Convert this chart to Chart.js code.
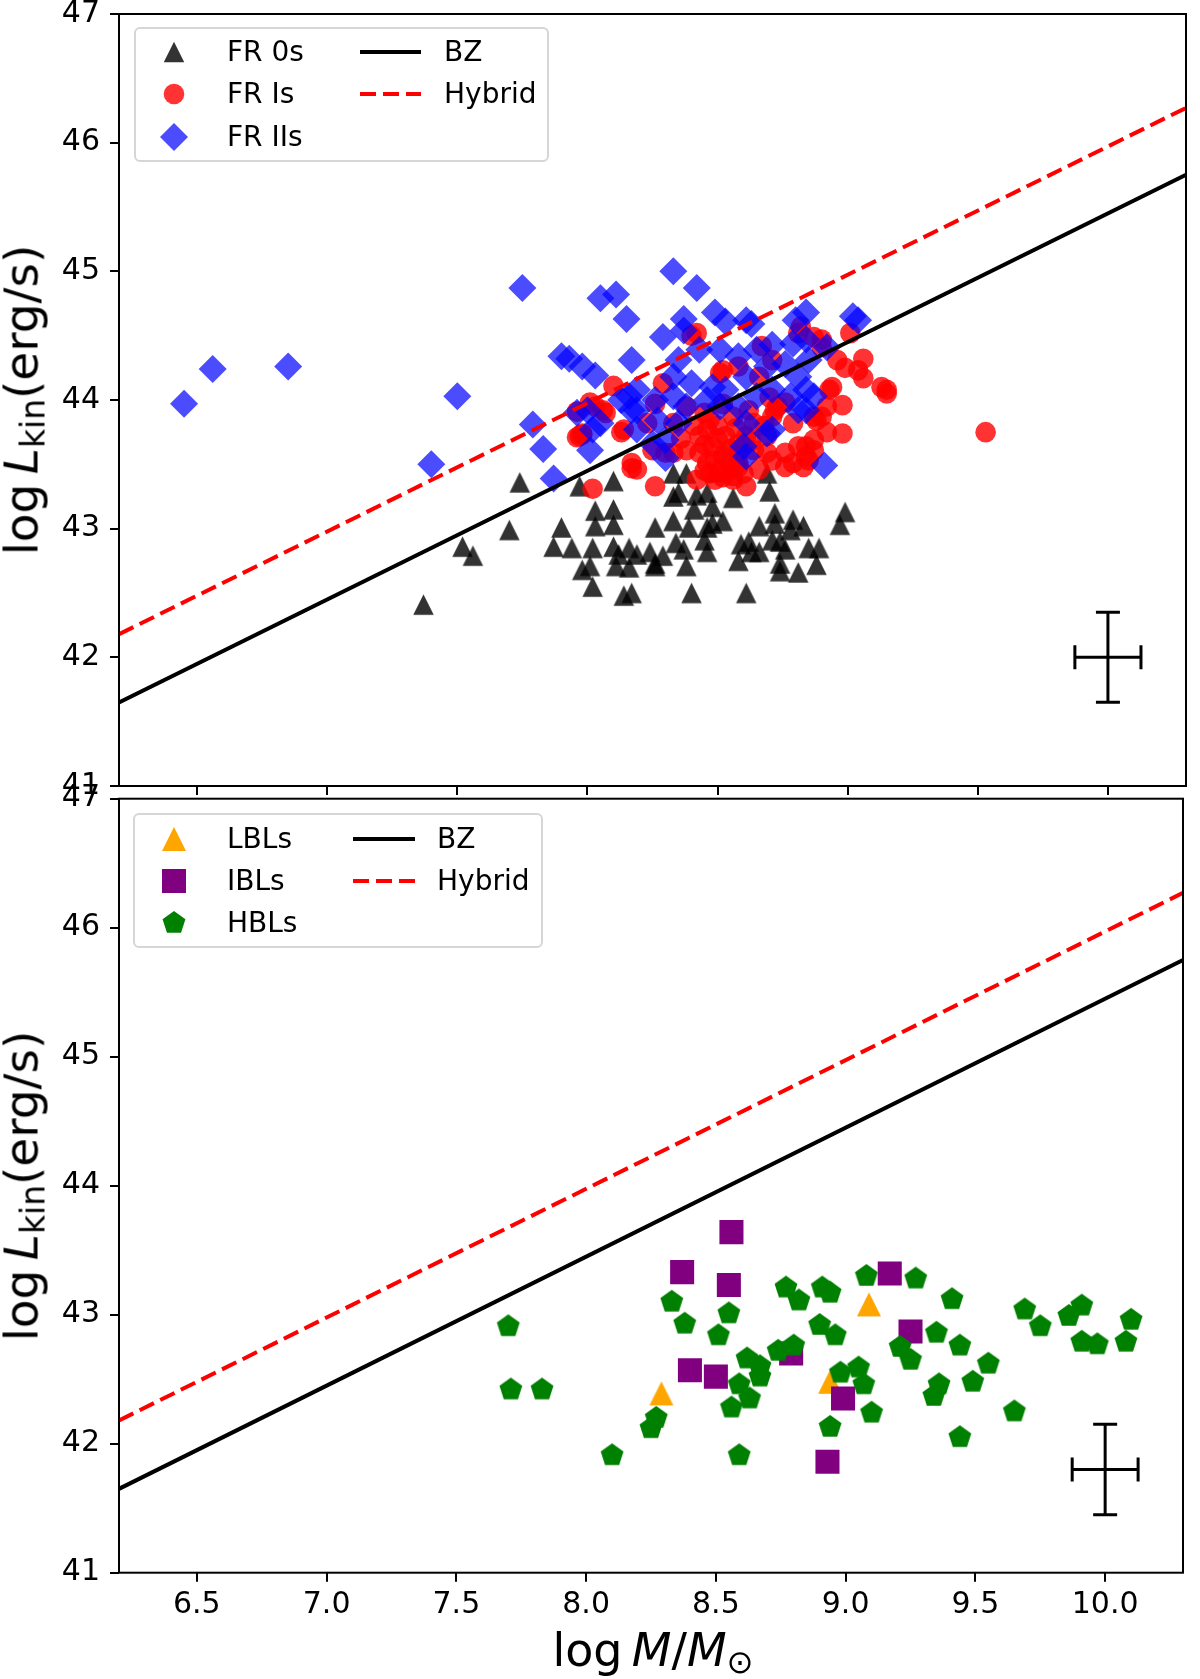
<!DOCTYPE html>
<html>
<head>
<meta charset="utf-8">
<script src="https://cdn.jsdelivr.net/npm/chart.js@4.4.1/dist/chart.umd.min.js"></script>
<style>
html,body{margin:0;padding:0;background:#fff;}
#wrap{position:relative;width:1200px;height:1679px;overflow:hidden;font-family:"DejaVu Sans",sans-serif;color:#000;background:#fff;}
#wrap canvas{position:absolute;left:0;}
#c1{top:0;}
#c2{top:780px;}
.legend{position:absolute;border:2px solid #d6d6d6;border-radius:6px;background:rgba(255,255,255,0.8);box-sizing:border-box;}
.lab{position:absolute;font-size:28px;line-height:28px;white-space:nowrap;}
.mk{position:absolute;overflow:visible;}
.ytitle{position:absolute;font-size:47px;line-height:47px;white-space:nowrap;transform:translate(-50%,-50%) rotate(-90deg);}
.xtitle{position:absolute;font-size:46px;line-height:46px;white-space:nowrap;transform:translateX(-50%);}
sub{font-size:70%;vertical-align:-0.22em;line-height:0;}
i{font-style:italic;}
</style>
</head>
<body>
<div id="wrap">
  <canvas id="c1" width="1200" height="800"></canvas>
  <canvas id="c2" width="1200" height="899"></canvas>
  <div class="ytitle" style="left:21px;top:400px">log&#8201;<i>L</i><sub>kin</sub>(erg/s)</div>
  <div class="ytitle" style="left:21px;top:1186px">log&#8201;<i>L</i><sub>kin</sub>(erg/s)</div>
  <div class="xtitle" style="left:653px;top:1627px">log&#8201;<i>M</i>/<i>M</i><sub>&#8857;</sub></div>
  <div id="legends"></div>
</div>
<script>
// ---------------- data ----------------
const xMin = 6.2, xMax = 10.3, yMin = 41, yMax = 47;
const xTicks = [6.5, 7.0, 7.5, 8.0, 8.5, 9.0, 9.5, 10.0];
const yTicks = [41, 42, 43, 44, 45, 46, 47];

// model lines (end points)
const lineX = [6.2, 10.3];
const bzY = [41.65, 45.75];
const hybridY = [42.18, 46.27];

// typical error bars: centre (x, y) and half sizes (dx, dy)
const errCenterTop = [10.0, 42.0];
const errCenterBottom = [10.0, 41.8];
const errHalf = [0.127, 0.35];

// top panel
const fr0 = [[7.37,42.41],[7.74,43.36],[7.70,42.99],[7.52,42.86],[7.56,42.79],[7.90,43.01],[7.87,42.86],[7.94,42.85],[7.97,43.33],[8.10,43.37],
[8.03,43.14],[8.10,43.15],[8.03,43.02],[8.10,43.03],[8.02,42.85],[7.98,42.68],[8.01,42.71],[8.02,42.55],[8.10,42.86],[8.12,42.80],
[8.11,42.71],[8.16,42.85],[8.16,42.70],[8.14,42.48],[8.17,42.50],[8.19,42.80],[8.26,43.01],[8.24,42.82],[8.26,42.73],[8.26,42.71],
[8.29,42.79],[8.33,43.06],[8.34,42.89],[8.35,43.28],[8.33,43.43],[8.38,43.43],[8.37,42.84],[8.38,42.71],[8.40,42.50],[8.39,43.01],
[8.42,43.26],[8.41,43.15],[8.46,43.28],[8.45,42.91],[8.48,43.17],[8.46,43.01],[8.46,42.82],[8.52,43.06],[8.49,43.44],[8.56,43.24],
[8.59,42.88],[8.58,42.75],[8.62,42.90],[8.61,42.50],[8.63,42.82],[8.66,43.02],[8.66,42.82],[8.69,43.43],[8.70,43.29],[8.72,43.12],
[8.72,43.04],[8.71,42.91],[8.74,42.90],[8.74,42.73],[8.74,42.67],[8.76,42.84],[8.79,43.07],[8.78,42.99],[8.81,42.66],[8.83,43.02],
[8.85,42.85],[8.88,42.72],[8.89,42.85],[8.99,43.13],[8.97,43.03],[8.33,43.25],[8.48,43.04]];

const fr1 = [[8.40,44.50],[8.81,44.52],[8.87,44.49],[9.01,44.52],[8.90,44.41],[8.96,44.31],[9.06,44.32],[9.04,44.23],[8.99,44.25],[9.06,44.17],
[9.13,44.10],[9.15,44.08],[8.94,44.10],[8.98,43.96],[8.92,43.95],[8.90,43.87],[8.98,43.74],[8.92,43.75],[8.87,43.69],[8.84,43.64],
[8.76,43.59],[8.71,43.53],[8.64,43.61],[8.58,43.51],[8.53,43.56],[8.48,43.64],[8.46,43.51],[8.43,43.72],[8.38,43.61],[8.30,43.59],
[8.25,43.61],[8.17,43.51],[8.14,43.77],[8.07,43.90],[7.98,43.74],[7.97,43.72],[8.29,44.13],[8.26,43.97],[8.52,43.97],[8.56,43.87],
[8.64,43.82],[8.61,43.72],[8.53,43.72],[8.46,43.77],[8.69,43.72],[8.71,43.87],[8.79,43.82],[8.87,43.87],[8.66,44.18],[8.71,44.31],
[8.58,44.26],[8.52,44.23],[8.38,43.95],[8.33,43.82],[8.23,43.82],[8.03,43.95],[8.79,43.51],[8.84,43.56],[8.87,43.61],[8.66,43.46],
[8.51,43.46],[8.56,43.41],[8.19,43.46],[8.93,44.08],[7.98,43.73],[8.02,43.31],[8.17,43.47],[8.26,43.33],[8.61,43.33],[8.56,43.38],
[9.15,44.05],[8.90,44.47],[8.85,43.53],[8.81,43.64],[8.88,43.84],[8.42,44.52],[8.51,44.21],[8.58,43.48],[8.69,43.59],[8.76,43.48],
[8.83,43.48],[8.49,43.53],[8.43,43.59],[8.33,43.59],[9.53,43.75],[7.96,43.71],[7.96,43.91],[8.06,43.92],[8.13,43.75],[8.01,43.98],
[8.10,44.11],[8.67,44.42],[8.82,44.57],[8.47,43.85],[8.50,43.70],[8.55,43.62],[8.47,43.43],[8.52,43.57],[8.57,43.78],[8.60,43.43],
[8.45,43.90],[8.49,43.38],[8.54,43.45],[8.63,43.68],[8.68,43.80],[8.73,43.95],[8.62,43.92],[8.41,43.80],[8.36,43.70],[8.58,43.66],
[8.45,43.45],[8.50,43.80],[8.55,43.50],[8.45,43.65],[8.52,43.40],[8.58,43.58],[8.72,43.92],[8.76,43.98],[8.70,44.02],[8.42,43.38]];

const fr2 = [[6.45,43.97],[6.56,44.24],[6.85,44.26],[7.40,43.50],[7.50,44.03],[7.75,44.87],[7.79,43.81],[7.83,43.62],[7.87,43.39],
[8.33,45.00],[8.42,44.87],[8.05,44.79],[8.11,44.82],[8.15,44.63],[7.90,44.34],[7.93,44.32],[7.98,44.26],[8.03,44.19],[8.17,44.31],
[8.37,44.63],[8.49,44.68],[8.53,44.61],[8.61,44.62],[8.63,44.59],[8.84,44.68],[8.80,44.62],[9.02,44.65],[9.04,44.62],[8.29,44.49],
[8.37,44.54],[8.01,43.61],[8.00,43.92],[8.05,43.82],[8.71,44.43],[8.65,44.39],[8.58,44.34],[8.51,44.39],[8.43,44.39],[8.35,44.31],
[8.33,44.18],[8.40,44.13],[8.48,44.10],[8.53,44.08],[8.61,44.18],[8.69,44.26],[8.76,44.28],[8.81,44.18],[8.85,44.31],[8.92,44.41],
[8.84,44.47],[8.79,44.44],[8.19,44.08],[8.13,44.00],[8.19,43.92],[8.26,44.00],[8.33,44.03],[8.38,43.95],[8.46,44.00],[8.51,43.95],
[8.58,43.95],[8.65,44.03],[8.71,44.08],[8.78,44.03],[8.84,44.08],[8.81,43.92],[8.87,44.03],[8.27,43.84],[8.19,43.77],[8.35,43.82],
[8.61,43.82],[8.71,43.77],[8.25,43.66],[8.30,43.69],[8.60,43.64],[8.61,43.56],[8.69,43.74],[8.84,43.92],[8.17,43.92],
[8.91,43.49],[8.16,44.03],[8.02,43.77],[7.96,43.90],[8.30,43.55]];

// bottom panel
const lbl = [[8.29,42.39],[9.09,43.08],[8.94,42.48]];
const ibl = [[8.56,43.64],[8.37,43.33],[8.55,43.23],[8.40,42.57],[8.50,42.52],[8.79,42.70],[9.17,43.32],[9.25,42.87],[8.99,42.35],[8.93,41.86]];
const hbl = [[7.70,42.91],[7.71,42.42],[7.83,42.42],[8.10,41.91],[8.25,42.12],[8.27,42.20],[8.33,43.10],[8.38,42.93],[8.55,43.01],[8.51,42.84],
[8.62,42.66],[8.67,42.60],[8.67,42.52],[8.59,42.46],[8.63,42.35],[8.56,42.28],[8.59,41.91],[8.77,43.21],[8.82,43.11],[8.74,42.72],
[8.80,42.76],[8.91,43.21],[8.94,43.17],[8.90,42.92],[8.94,42.13],[9.08,43.30],[9.27,43.28],[9.41,43.12],[8.96,42.84],[9.35,42.86],
[9.44,42.76],[9.21,42.75],[9.25,42.65],[9.55,42.62],[8.98,42.55],[9.05,42.59],[9.07,42.46],[9.36,42.46],[9.34,42.37],[9.49,42.48],
[9.10,42.24],[9.44,42.05],[9.65,42.25],[9.69,43.04],[9.75,42.91],[9.86,42.99],[9.91,43.07],[10.10,42.96],[9.91,42.79],[9.97,42.77],[10.08,42.79]];

// ---------------- styles ----------------
const FONT = '"DejaVu Sans", sans-serif';
const C_FR0 = 'rgba(0,0,0,0.8)';
const C_FR1 = 'rgba(255,0,0,0.8)';
const C_FR2 = 'rgba(0,0,255,0.7)';
const C_LBL = '#ffa500';
const C_IBL = '#800080';
const C_HBL = '#008000';

function triCanvas(w, h, color) {
  const c = document.createElement('canvas');
  c.width = Math.ceil(w) + 2; c.height = Math.ceil(h) + 2;
  const g = c.getContext('2d');
  const cx = c.width / 2, cy = c.height / 2;
  g.fillStyle = color; g.beginPath();
  g.moveTo(cx, cy - h / 2); g.lineTo(cx + w / 2, cy + h / 2); g.lineTo(cx - w / 2, cy + h / 2);
  g.closePath(); g.fill();
  return c;
}
function pentCanvas(R, color) {
  const c = document.createElement('canvas');
  const s = Math.ceil(2 * R) + 2;
  c.width = s; c.height = s;
  const g = c.getContext('2d');
  g.fillStyle = color; g.beginPath();
  for (let k = 0; k < 5; k++) {
    const a = (-90 + 72 * k) * Math.PI / 180;
    const px = s / 2 + R * Math.cos(a), py = s / 2 + R * Math.sin(a);
    if (k === 0) g.moveTo(px, py); else g.lineTo(px, py);
  }
  g.closePath(); g.fill();
  return c;
}
const triFR0 = triCanvas(20.5, 20.5, C_FR0);
const triLBL = triCanvas(24, 24, C_LBL);
const pentHBL = pentCanvas(12, C_HBL);

const pts = arr => arr.map(p => ({x: p[0], y: p[1]}));
const linePts = ys => lineX.map((x, i) => ({x: x, y: ys[i]}));

function scatterSet(label, arr, style, color, radius, order) {
  return {label, data: pts(arr), pointStyle: style, pointRadius: radius, pointHoverRadius: radius,
    backgroundColor: color, borderColor: color, pointBorderWidth: 0, borderWidth: 0, showLine: false, order};
}
function lineSets() {
  return [
    {label: 'BZ', data: linePts(bzY), showLine: true, borderColor: '#000', borderWidth: 4, pointRadius: 0, fill: false, order: 0},
    {label: 'Hybrid', data: linePts(hybridY), showLine: true, borderColor: '#ff0000', borderWidth: 4, borderDash: [16, 7], pointRadius: 0, fill: false, order: 0}
  ];
}

const framePlugin = {
  id: 'frame',
  afterDraw(chart) {
    const {ctx, chartArea: a} = chart;
    ctx.save(); ctx.strokeStyle = '#000'; ctx.lineWidth = 2;
    ctx.strokeRect(a.left, a.top, a.right - a.left, a.bottom - a.top);
    ctx.restore();
  }
};
const errPlugin = {
  id: 'errbar',
  afterDatasetsDraw(chart, args, opts) {
    const xs = chart.scales.x, ys = chart.scales.y, ctx = chart.ctx;
    const cx = xs.getPixelForValue(opts.center[0]), cy = ys.getPixelForValue(opts.center[1]);
    const x0 = xs.getPixelForValue(opts.center[0] - errHalf[0]), x1 = xs.getPixelForValue(opts.center[0] + errHalf[0]);
    const y0 = ys.getPixelForValue(opts.center[1] + errHalf[1]), y1 = ys.getPixelForValue(opts.center[1] - errHalf[1]);
    const cap = 12;
    ctx.save(); ctx.strokeStyle = '#000'; ctx.lineWidth = 3; ctx.beginPath();
    ctx.moveTo(x0, cy); ctx.lineTo(x1, cy);
    ctx.moveTo(cx, y0); ctx.lineTo(cx, y1);
    ctx.moveTo(x0, cy - cap); ctx.lineTo(x0, cy + cap);
    ctx.moveTo(x1, cy - cap); ctx.lineTo(x1, cy + cap);
    ctx.moveTo(cx - cap, y0); ctx.lineTo(cx + cap, y0);
    ctx.moveTo(cx - cap, y1); ctx.lineTo(cx + cap, y1);
    ctx.stroke(); ctx.restore();
  }
};

function makeChart(canvas, datasets, cfg) {
  return new Chart(canvas, {
    type: 'scatter',
    data: {datasets},
    plugins: [framePlugin, errPlugin],
    options: {
      responsive: false, animation: false, events: [],
      layout: {padding: {left: 0, right: 12.5, top: cfg.padTop, bottom: 0}},
      plugins: {legend: {display: false}, tooltip: {enabled: false}, errbar: {center: cfg.err}},
      scales: {
        x: {
          type: 'linear', min: xMin, max: xMax,
          afterBuildTicks: s => { s.ticks = xTicks.map(v => ({value: v})); },
          afterFit: s => { s.height = cfg.xHeight; s.paddingLeft = 0; s.paddingRight = 0; },
          border: {display: false},
          grid: {display: true, drawOnChartArea: false, drawTicks: true, tickLength: 9, tickWidth: 2, lineWidth: 2, color: '#000', tickColor: '#000'},
          ticks: {display: cfg.xLabels, color: '#000', font: {family: FONT, size: 30}, padding: 6, maxRotation: 0, autoSkip: false,
            callback: v => Number(v).toFixed(1)}
        },
        y: {
          type: 'linear', min: yMin, max: yMax,
          afterBuildTicks: s => { s.ticks = yTicks.map(v => ({value: v})); },
          afterFit: s => { s.width = 119; s.paddingTop = 0; s.paddingBottom = 0; },
          border: {display: false},
          grid: {display: true, drawOnChartArea: false, drawTicks: true, tickLength: 9, tickWidth: 2, lineWidth: 2, color: '#000', tickColor: '#000'},
          ticks: {color: '#000', font: {family: FONT, size: 30}, padding: 10, callback: v => String(v)}
        }
      }
    }
  });
}

makeChart(document.getElementById('c1'), [
  ...lineSets(),
  scatterSet('FR IIs', fr2, 'rectRot', C_FR2, 14, 1),
  scatterSet('FR Is', fr1, 'circle', C_FR1, 10.3, 2),
  scatterSet('FR 0s', fr0, triFR0, C_FR0, 11, 3)
], {padTop: 12.5, xHeight: 13, xLabels: false, err: errCenterTop});

makeChart(document.getElementById('c2'), [
  ...lineSets(),
  scatterSet('HBLs', hbl, pentHBL, C_HBL, 12, 1),
  scatterSet('IBLs', ibl, 'rect', C_IBL, 17, 2),
  scatterSet('LBLs', lbl, triLBL, C_LBL, 12, 3)
], {padTop: 18.7, xHeight: 106.3, xLabels: true, err: errCenterBottom});

// ---------------- legends (HTML) ----------------
function svgMarker(kind, color, cx, cy) {
  const s = 40, c = s / 2;
  let shape = '';
  if (kind.t === 'tri') shape = `<polygon points="${c},${c - kind.s / 2} ${c + kind.s / 2},${c + kind.s / 2} ${c - kind.s / 2},${c + kind.s / 2}" fill="${color}"/>`;
  if (kind.t === 'circle') shape = `<circle cx="${c}" cy="${c}" r="${kind.r}" fill="${color}"/>`;
  if (kind.t === 'diamond') shape = `<polygon points="${c},${c - kind.r} ${c + kind.r},${c} ${c},${c + kind.r} ${c - kind.r},${c}" fill="${color}"/>`;
  if (kind.t === 'square') shape = `<rect x="${c - kind.s / 2}" y="${c - kind.s / 2}" width="${kind.s}" height="${kind.s}" fill="${color}"/>`;
  if (kind.t === 'pent') {
    const p = [];
    for (let k = 0; k < 5; k++) { const a = (-90 + 72 * k) * Math.PI / 180; p.push((c + kind.r * Math.cos(a)).toFixed(2) + ',' + (c + kind.r * Math.sin(a)).toFixed(2)); }
    shape = `<polygon points="${p.join(' ')}" fill="${color}"/>`;
  }
  return `<svg class="mk" width="${s}" height="${s}" style="left:${cx - c}px;top:${cy - c}px">${shape}</svg>`;
}
function svgLine(x0, x1, y, color, dash) {
  const w = x1 - x0;
  return `<svg class="mk" width="${w}" height="10" style="left:${x0}px;top:${y - 5}px"><line x1="0" y1="5" x2="${w}" y2="5" stroke="${color}" stroke-width="4" ${dash ? 'stroke-dasharray="16 7"' : ''}/></svg>`;
}
function legend(box, rows, items, lineX0, lineX1, textX2) {
  let h = `<div class="legend" style="left:${box[0]}px;top:${box[1]}px;width:${box[2]}px;height:${box[3]}px"></div>`;
  items.forEach((it, i) => {
    h += svgMarker(it.kind, it.color, 174, rows[i]);
    h += `<div class="lab" style="left:227px;top:${rows[i] - 14}px">${it.label}</div>`;
  });
  h += svgLine(lineX0, lineX1, rows[0], '#000', false);
  h += `<div class="lab" style="left:${textX2}px;top:${rows[0] - 14}px">BZ</div>`;
  h += svgLine(lineX0, lineX1, rows[1], '#ff0000', true);
  h += `<div class="lab" style="left:${textX2}px;top:${rows[1] - 14}px">Hybrid</div>`;
  return h;
}
document.getElementById('legends').innerHTML =
  legend([134, 27, 415, 135], [51.5, 94, 136.5], [
    {label: 'FR 0s', color: C_FR0, kind: {t: 'tri', s: 20.5}},
    {label: 'FR Is', color: C_FR1, kind: {t: 'circle', r: 10.3}},
    {label: 'FR IIs', color: C_FR2, kind: {t: 'diamond', r: 14}}
  ], 360, 421, 444) +
  legend([133, 813, 410, 135], [838.7, 881, 923], [
    {label: 'LBLs', color: C_LBL, kind: {t: 'tri', s: 24}},
    {label: 'IBLs', color: C_IBL, kind: {t: 'square', s: 24}},
    {label: 'HBLs', color: C_HBL, kind: {t: 'pent', r: 12}}
  ], 353, 415, 437);
</script>
</body>
</html>
